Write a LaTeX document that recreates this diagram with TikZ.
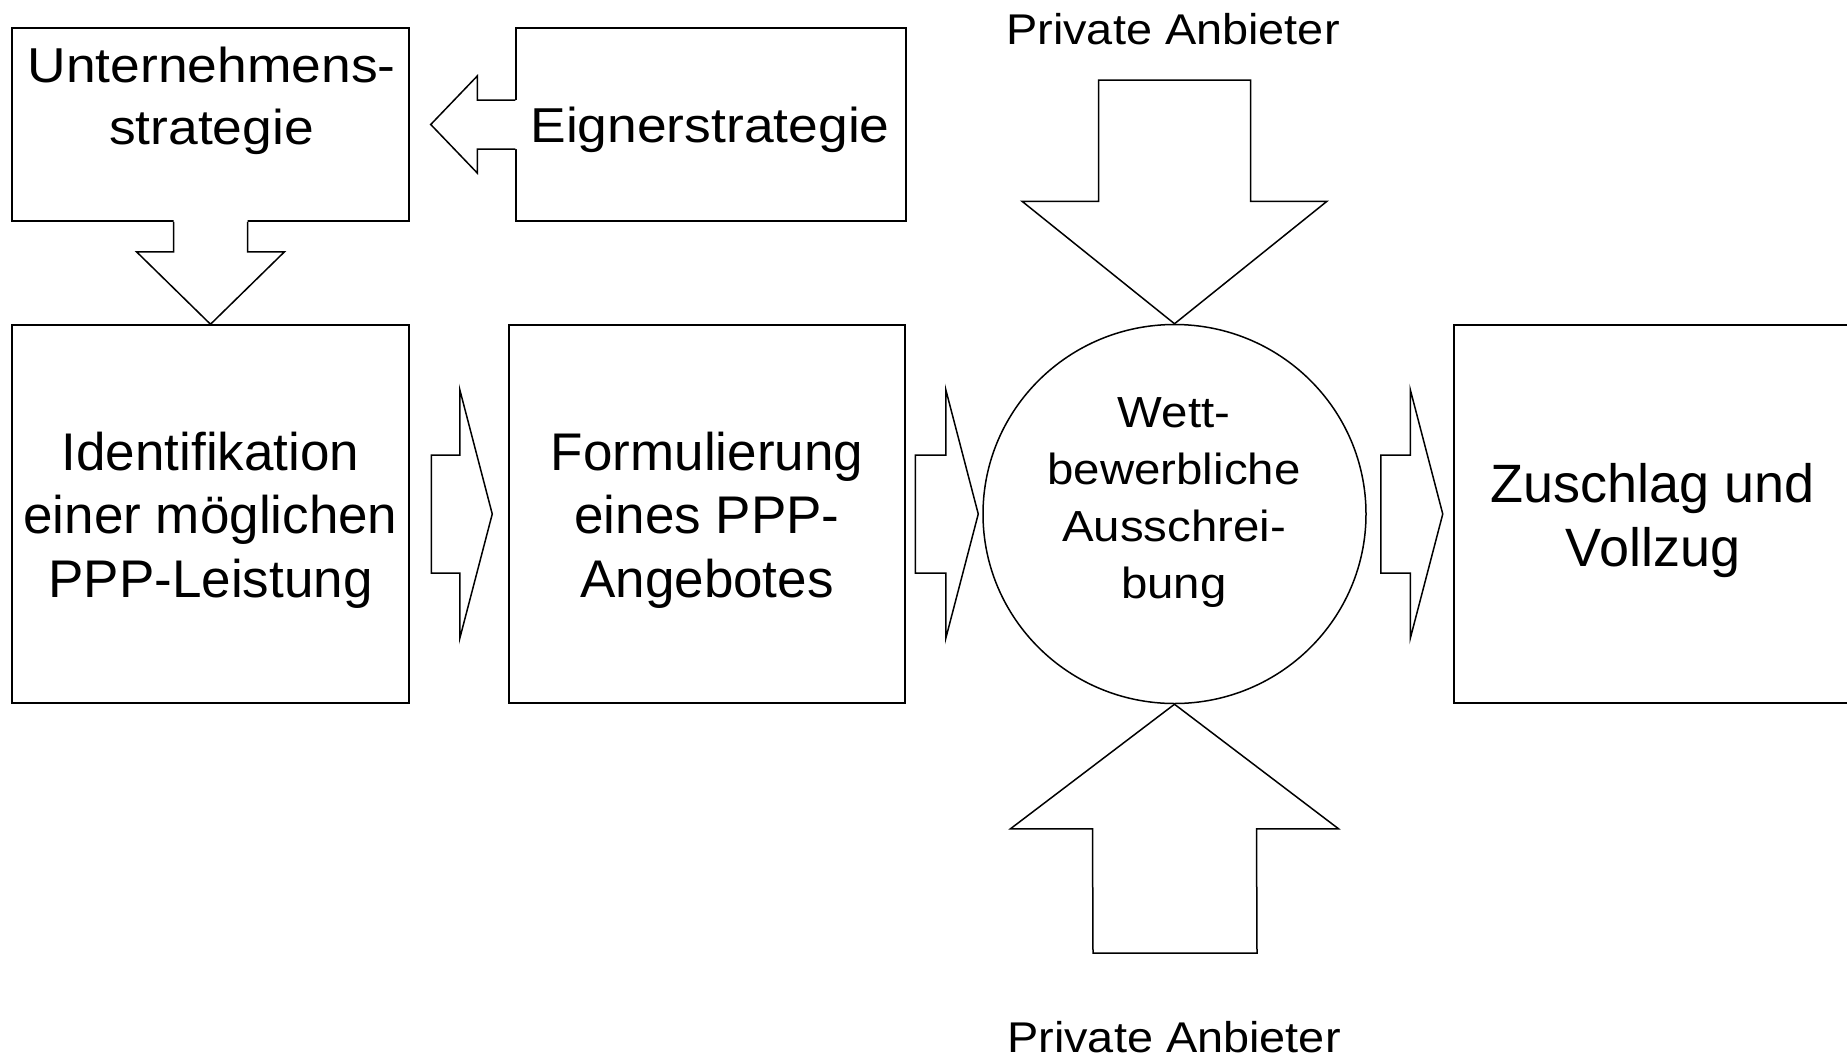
\documentclass[tikz,border=0pt]{standalone}
\usepackage{fontspec}
\setmainfont{Liberation Sans}
\newfontfamily\widefont[FakeStretch=1.09]{Liberation Sans}
\usetikzlibrary{calc,shapes.geometric}
\newcommand\rblock[2]{%
  \draw[blk] ($(#1)+(0,59)$) -- ($(#2)+(-32.5,59)$) -- ($(#2)+(-32.5,124.5)$) -- (#2)
    -- ($(#2)+(-32.5,-124.5)$) -- ($(#2)+(-32.5,-59)$) -- ($(#1)+(0,-59)$) -- cycle;}
\begin{document}
\begin{tikzpicture}[x=1pt,y=1pt,line width=1.5pt,
  boxnode/.style={draw,rectangle,inner sep=0pt,minimum width=#1},
  blk/.style={draw,fill=white},
  bigtxt/.style={anchor=base,inner sep=0pt,font=\fontsize{53}{64}\selectfont},
  zustxt/.style={anchor=base,inner sep=0pt,font=\fontsize{54}{64}\selectfont},
  untxt/.style={anchor=base,inner sep=0pt,font=\widefont\fontsize{49}{62}\selectfont},
  eigtxt/.style={anchor=base,inner sep=0pt,font=\widefont\fontsize{49}{60}\selectfont},
  circtxt/.style={anchor=base,inner sep=0pt,font=\widefont\fontsize{43.5}{57}\selectfont},
  privtxt/.style={anchor=base,inner sep=0pt,font=\widefont\fontsize{43}{50}\selectfont}]
\useasboundingbox (0,0) rectangle (1847,-1058);
\clip (0,0) rectangle (1847,-1058);

% boxes
\node[boxnode=397pt,minimum height=193pt] (unt) at (210.5,-124.5) {};
\node[boxnode=390pt,minimum height=193pt] (eig) at (711,-124.5) {};
\node[boxnode=397pt,minimum height=378pt] (ident) at (210.5,-514) {};
\node[boxnode=396pt,minimum height=378pt] (form) at (707,-514) {};
\node[draw,ellipse,inner sep=0pt,minimum width=383pt,minimum height=379pt] (circ) at (1174.5,-514) {};
\node[boxnode=396pt,minimum height=378pt] (zus) at (1652,-514) {};

% down arrow Unternehmensstrategie -> Identifikation (merged with box)
\fill[white] ($(unt.south)+(-37,2)$) -- ($(unt.south)+(-37,-30)$) -- ($(unt.south)+(-74,-30)$)
  -- (ident.north) -- ($(unt.south)+(74,-30)$) -- ($(unt.south)+(37,-30)$) -- ($(unt.south)+(37,2)$) -- cycle;
\draw ($(unt.south)+(-37,0)$) -- ($(unt.south)+(-37,-30)$) -- ($(unt.south)+(-74,-30)$)
  -- (ident.north) -- ($(unt.south)+(74,-30)$) -- ($(unt.south)+(37,-30)$) -- ($(unt.south)+(37,0)$);

% left arrow Eignerstrategie -> Unternehmensstrategie (merged with box)
\coordinate (ltip) at ($(unt.east)+(21,0)$);
\fill[white] ($(eig.west)+(2,24.5)$) -- ($(eig.west)+(-38,24.5)$) -- ($(eig.west)+(-38,48.5)$)
  -- (ltip) -- ($(eig.west)+(-38,-48.5)$) -- ($(eig.west)+(-38,-24.5)$) -- ($(eig.west)+(2,-24.5)$) -- cycle;
\draw ($(eig.west)+(0,24.5)$) -- ($(eig.west)+(-38,24.5)$) -- ($(eig.west)+(-38,48.5)$)
  -- (ltip) -- ($(eig.west)+(-38,-48.5)$) -- ($(eig.west)+(-38,-24.5)$) -- ($(eig.west)+(0,-24.5)$);

% right block arrows
\coordinate (r1s) at ($(ident.east)+(21.5,0)$);
\coordinate (r1t) at ($(form.west)+(-16,0)$);
\coordinate (r2s) at ($(form.east)+(9.5,0)$);
\coordinate (r2t) at ($(circ.west)+(-4,0)$);
\coordinate (r3s) at ($(circ.east)+(14,0)$);
\coordinate (r3t) at ($(zus.west)+(-10.5,0)$);
\rblock{r1s}{r1t}
\rblock{r2s}{r2t}
\rblock{r3s}{r3t}

% top arrow into circle
\coordinate (ts) at (1174.5,-80);
\coordinate (tb) at ($(circ.north)+(0,122.5)$);
\draw[blk] ($(ts)+(-76,0)$) -- ($(ts)+(76,0)$) -- ($(tb)+(76,0)$) -- ($(tb)+(152.5,0)$)
  -- (circ.north) -- ($(tb)+(-152.5,0)$) -- ($(tb)+(-76,0)$) -- cycle;

% bottom arrow into circle
\coordinate (bs) at (1175,-953);
\coordinate (bb) at ($(circ.south)+(0,-124.5)$);
\draw[blk] ($(bs)+(-82,0)$) -- ($(bs)+(82,0)$) -- ($(bb)+(82,0)$) -- ($(bb)+(164,0)$)
  -- (circ.south) -- ($(bb)+(-164,0)$) -- ($(bb)+(-82,0)$) -- cycle;

% texts
\node[untxt] (u1) at (211.5,-82) {Unternehmens-};
\node[untxt] (u2) at (211.5,-144) {strategie};
\node[eigtxt] (e1) at (710,-142) {Eignerstrategie};
\node[bigtxt] (i1) at (210.5,-470) {Identifikation};
\node[bigtxt] (i2) at (210.5,-533.5) {einer möglichen};
\node[bigtxt] (i3) at (210.5,-597) {PPP-Leistung};
\node[bigtxt] (f1) at (707,-470) {Formulierung};
\node[bigtxt] (f2) at (707,-533.5) {eines PPP-};
\node[bigtxt] (f3) at (707,-597) {Angebotes};
\node[circtxt] (c1) at (1174,-427) {Wett-};
\node[circtxt] (c2) at (1174,-484.5) {bewerbliche};
\node[circtxt] (c3) at (1174,-541) {Ausschrei-};
\node[circtxt] (c4) at (1174,-598) {bung};
\node[zustxt] (z1) at (1653,-502) {Zuschlag und};
\node[zustxt] (z2) at (1653,-566) {Vollzug};
\node[privtxt] (p1) at (1173,-44) {Private Anbieter};
\node[privtxt] (p2) at (1174,-1052) {Private Anbieter};
\end{tikzpicture}
\end{document}
